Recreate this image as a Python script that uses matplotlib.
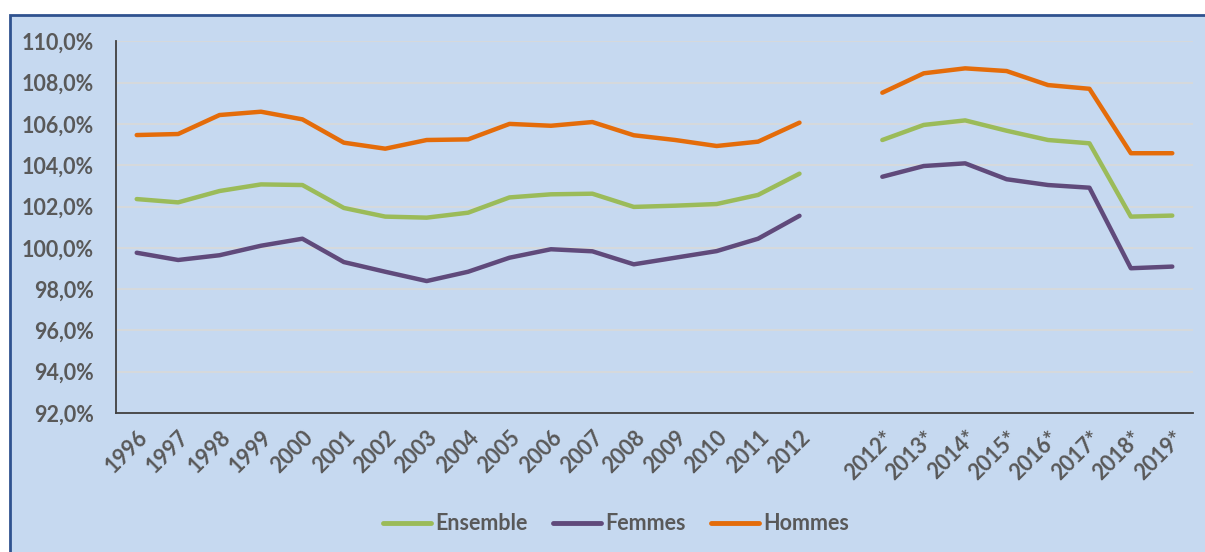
import numpy as np
import matplotlib
matplotlib.use("Agg")
import matplotlib.pyplot as plt
from matplotlib.patches import Rectangle

categories = ["1996", "1997", "1998", "1999", "2000", "2001", "2002", "2003", "2004",
              "2005", "2006", "2007", "2008", "2009", "2010", "2011", "2012", "",
              "2012*", "2013*", "2014*", "2015*", "2016*", "2017*", "2018*", "2019*"]

ensemble = [102.36, 102.20, 102.75, 103.07, 103.04, 101.93, 101.51, 101.46, 101.70,
            102.44, 102.59, 102.62, 101.98, 102.04, 102.12, 102.56, 103.59, np.nan,
            105.22, 105.95, 106.17, 105.67, 105.22, 105.06, 101.51, 101.56]
femmes = [99.76, 99.41, 99.64, 100.10, 100.44, 99.31, 98.84, 98.39, 98.84,
          99.52, 99.93, 99.83, 99.20, 99.52, 99.84, 100.44, 101.55, np.nan,
          103.44, 103.96, 104.09, 103.32, 103.04, 102.91, 99.01, 99.09]
hommes = [105.46, 105.51, 106.43, 106.59, 106.22, 105.09, 104.80, 105.22, 105.25,
          106.00, 105.91, 106.09, 105.45, 105.22, 104.93, 105.14, 106.06, np.nan,
          107.51, 108.45, 108.69, 108.56, 107.88, 107.70, 104.58, 104.58]

series_names = ["Ensemble", "Femmes", "Hommes"]
colors = ["#9BBB59", "#604A7B", "#E46C0A"]
yticks = [92, 94, 96, 98, 100, 102, 104, 106, 108, 110]

W, H = 1205, 552
fig = plt.figure(figsize=(W / 100, H / 100), dpi=100)
fig.patch.set_facecolor("white")
bg = Rectangle((10 / W, -0.1), 1.2, (1 - 15 / H) + 0.1, transform=fig.transFigure,
               facecolor="#C6D9F0", edgecolor="#2F528F", linewidth=2, zorder=-10)
fig.patches.append(bg)

ax = fig.add_axes([116 / W, 1 - 413 / H, (1193 - 116) / W, (413 - 41.3) / H])
ax.set_facecolor("none")

x = np.arange(len(categories))
handles = []
for name, vals, c in zip(series_names, [ensemble, femmes, hommes], colors):
    (ln,) = ax.plot(x, vals, color=c, lw=3.2, solid_capstyle="round",
                    solid_joinstyle="round", label=name, zorder=3)
    handles.append(ln)

ax.set_xlim(-0.5, len(categories) - 0.5)
ax.set_ylim(92, 110)
ax.set_yticks(yticks)
ax.set_yticklabels([f"{v:.1f}%".replace(".", ",") for v in yticks])
ax.set_xticks(x)
ax.set_xticklabels(categories)

font = "Lato"
txtc = "#595959"
fs = 15.5
for lab in ax.get_yticklabels():
    lab.set_fontfamily(font)
    lab.set_fontweight("bold")
    lab.set_fontsize(fs)
    lab.set_color(txtc)
for lab in ax.get_xticklabels():
    lab.set_fontfamily(font)
    lab.set_fontweight("bold")
    lab.set_fontsize(fs)
    lab.set_color(txtc)
    lab.set_rotation(45)
    lab.set_ha("right")
    lab.set_rotation_mode("anchor")

ax.tick_params(axis="both", length=0)
ax.tick_params(axis="y", pad=16)
ax.tick_params(axis="x", pad=10)
ax.grid(axis="y", color="#D9D9D9", lw=1.2, zorder=1)
ax.set_axisbelow(True)
for s in ["top", "right"]:
    ax.spines[s].set_visible(False)
for s in ["left", "bottom"]:
    ax.spines[s].set_color("#404040")
    ax.spines[s].set_linewidth(1.3)

leg = fig.legend(handles=handles, loc="center", bbox_to_anchor=(616 / W, 1 - 524 / H),
                 ncol=3, frameon=False, handlelength=2.2, handletextpad=0.2,
                 columnspacing=1.2,
                 prop={"family": font, "weight": "bold", "size": fs})
for t in leg.get_texts():
    t.set_color(txtc)
for l in leg.get_lines():
    l.set_linewidth(3.5)
    l.set_solid_capstyle("round")

fig.savefig("out.png", dpi=100)
